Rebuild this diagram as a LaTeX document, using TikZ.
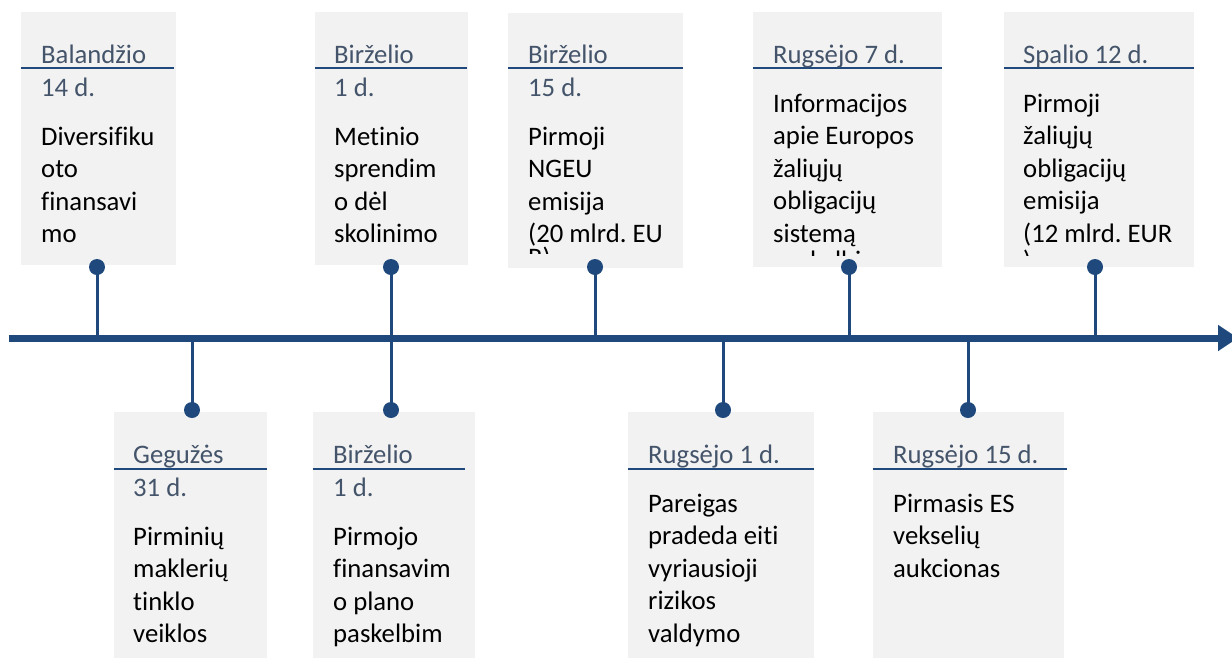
\documentclass[tikz,border=0pt]{standalone}
\usepackage{fontspec}
\setmainfont{Carlito}[Ligatures={NoCommon}]
\usetikzlibrary{arrows.meta}
\definecolor{tlblue}{RGB}{31,73,125}
\definecolor{hdgray}{RGB}{68,84,106}
\definecolor{boxfill}{RGB}{242,242,242}
\frenchspacing
\begin{document}
\begin{tikzpicture}[x=1pt,y=-1pt,
  evbox/.style={fill=boxfill, draw=none, inner sep=0pt, anchor=north west},
  hdtext/.style={anchor=base west, inner sep=0pt, text=hdgray, font=\fontsize{26.7}{33.5}\selectfont\frenchspacing, align=flush left, text width=220pt},
  bdtext/.style={anchor=base west, inner sep=0pt, text=black, font=\fontsize{26.7}{32.6}\selectfont\frenchspacing, align=flush left, text width=220pt},
  hdline/.style={draw=tlblue, line width=2pt},
  stem/.style={draw=tlblue, line width=3pt},
  evdot/.style={circle, fill=tlblue, minimum size=16pt, inner sep=0pt},
  axisline/.style={draw=tlblue, line width=7pt, -{Triangle[length=20pt,width=25pt]}}
]
\useasboundingbox (0,0) rectangle (1232,657);
\fill[white] (0,0) rectangle (1232,657);

% ---------- top boxes ----------
\node[evbox, minimum width=155pt, minimum height=253pt] (t1) at (21,12) {};
\node[evbox, minimum width=153pt, minimum height=253pt] (t2) at (315,12) {};
\node[evbox, minimum width=175pt, minimum height=255pt] (t3) at (508,13) {};
\node[evbox, minimum width=189pt, minimum height=255pt] (t4) at (753,12) {};
\node[evbox, minimum width=190pt, minimum height=255pt] (t5) at (1004,12) {};

% ---------- bottom boxes ----------
\node[evbox, minimum width=153pt, minimum height=250pt] (b1) at (114,412) {};
\node[evbox, minimum width=162pt, minimum height=250pt] (b2) at (313,412) {};
\node[evbox, minimum width=186pt, minimum height=250pt] (b3) at (628,412) {};
\node[evbox, minimum width=191pt, minimum height=250pt] (b4) at (873,412) {};

% ---------- header lines ----------
\draw[hdline] (21,68) -- (174,68);
\draw[hdline] (315,68) -- (467,68);
\draw[hdline] (508,68) -- (683,68);
\draw[hdline] (753,68) -- (942,68);
\draw[hdline] (1004,68) -- (1194,68);
\draw[hdline] (114,469) -- (267,469);
\draw[hdline] (313,469) -- (465,469);
\draw[hdline] (628,469) -- (814,469);
\draw[hdline] (873,469) -- (1067,469);

% ---------- top texts ----------
\node[hdtext] (h1) at (41,63) {Balandžio\\14 d.};
\node[bdtext] (x1) at (41,145) {Diversifiku\\oto\\finansavi\\mo};
\node[hdtext] (h2) at (334,63) {Birželio\\1 d.};
\node[bdtext] (x2) at (334,145) {Metinio\\sprendim\\o dėl\\skolinimo};
\node[hdtext] (h3) at (528,63) {Birželio\\15 d.};
\node[bdtext] (x3) at (528,145) {Pirmoji\\NGEU\\emisija\\(20 mlrd. EU};
\node[hdtext] (h4) at (773,63) {Rugsėjo 7 d.};
\node[bdtext] (x4) at (773,112) {Informacijos\\apie Europos\\žaliųjų\\obligacijų\\sistemą};
\node[hdtext] (h5) at (1023,63) {Spalio 12 d.};
\node[bdtext] (x5) at (1023,112) {Pirmoji\\žaliųjų\\obligacijų\\emisija\\(12 mlrd. EUR};

% overflowing lines, cut off by the text frame
\begin{scope}
\clip (t3.north west) rectangle (t3.east |- 0,253);
\node[bdtext] (c3) at (528,266) {R)};
\end{scope}
\begin{scope}
\clip (t4.north west) rectangle (t4.east |- 0,255);
\node[bdtext] (c4) at (773,269) {paskelbimas};
\end{scope}
\begin{scope}
\clip (t5.north west) rectangle (t5.east |- 0,255);
\node[bdtext] (c5) at (1023,269) {)};
\end{scope}

% ---------- bottom texts ----------
\node[hdtext] (h6) at (133,463) {Gegužės\\31 d.};
\node[bdtext] (x6) at (133,545) {Pirminių\\maklerių\\tinklo\\veiklos};
\node[hdtext] (h7) at (333,463) {Birželio\\1 d.};
\node[bdtext] (x7) at (333,545) {Pirmojo\\finansavim\\o plano\\paskelbim};
\node[hdtext] (h8) at (648,463) {Rugsėjo 1 d.};
\node[bdtext] (x8) at (648,512) {Pareigas\\pradeda eiti\\vyriausioji\\rizikos\\valdymo};
\node[hdtext] (h9) at (893,463) {Rugsėjo 15 d.};
\node[bdtext] (x9) at (893,512) {Pirmasis ES\\vekselių\\aukcionas};

% ---------- axis ----------
\coordinate (axL) at (9,338);
\coordinate (axR) at (1238,338);

% ---------- dots ----------
\coordinate (d1) at (97,267);
\coordinate (d2) at (391,267);
\coordinate (d3) at (595,267);
\coordinate (d4) at (849,267);
\coordinate (d5) at (1095,267);
\coordinate (d6) at (192,410);
\coordinate (d7) at (391,410);
\coordinate (d8) at (723,410);
\coordinate (d9) at (968,410);

\foreach \i in {1,...,9}{
  \draw[stem] (d\i) -- (d\i |- axL);
}
\draw[axisline] (axL) -- (axR);
\foreach \i in {1,...,9}{
  \node[evdot] (dot\i) at (d\i) {};
}
\end{tikzpicture}
\end{document}
